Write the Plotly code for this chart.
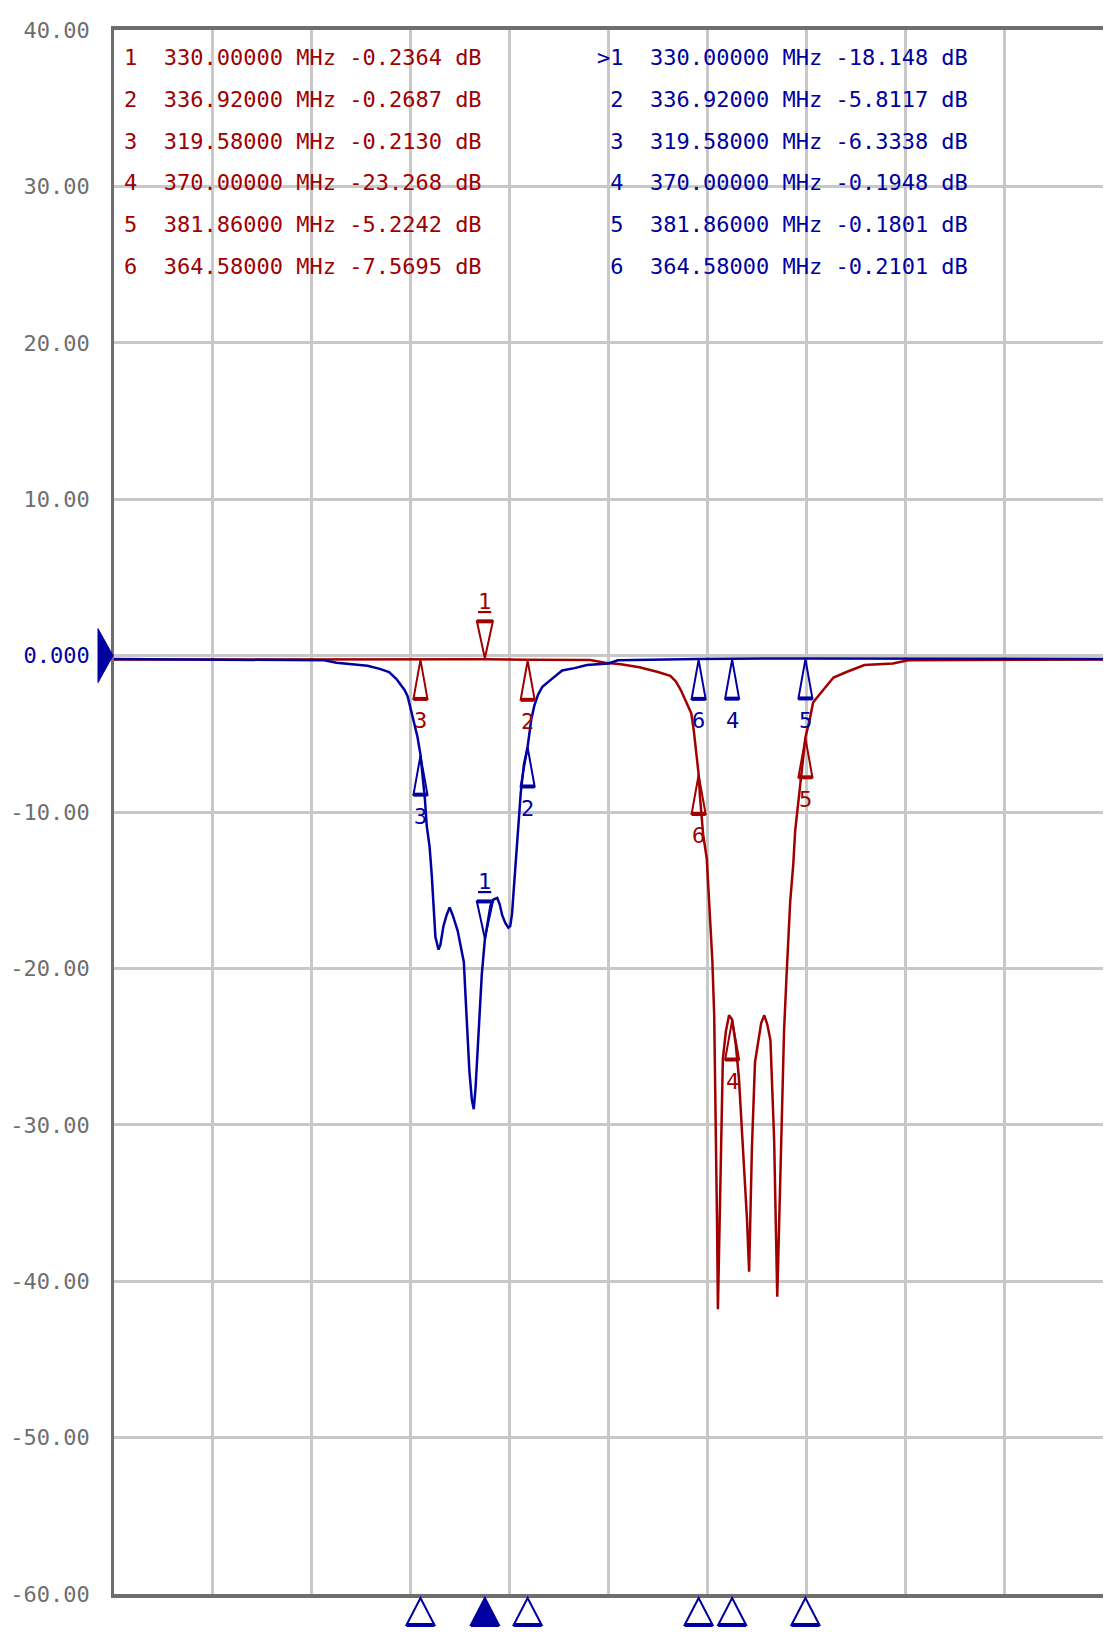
import plotly.graph_objects as go

# ---------------- data ----------------
# Blue trace (frequency in MHz, level in dB)
blue_freq = [270.0, 300.0, 304.0, 306.0, 309.0, 311.0, 313.0, 314.5, 315.7, 316.35,
             317.0, 317.5, 318.0, 318.5, 319.1, 319.58, 320.0, 320.3, 320.6, 321.05,
             321.4, 321.7, 322.0, 322.5, 322.8, 323.3, 323.8, 324.3, 324.8, 325.6,
             326.1, 326.6, 326.9, 327.2, 327.5, 327.9, 328.2, 328.5, 328.8, 329.2,
             329.5, 330.0, 330.45, 330.9, 331.4, 332.0, 332.4, 332.8, 333.3, 333.8,
             334.1, 334.4, 334.7, 335.0, 335.3, 335.8, 336.3, 336.92, 337.5, 338.0,
             338.6, 339.3, 340.5, 341.5, 342.5, 344.5, 346.5, 350.0, 351.5, 364.58,
             370.0, 381.86, 430.0]
blue_db = [-0.22, -0.25, -0.3, -0.45, -0.55, -0.65, -0.85, -1.05, -1.5, -1.85,
           -2.2, -2.6, -3.4, -4.4, -5.2, -6.3338, -7.8, -9.2, -10.9, -12.2,
           -14.0, -16.3, -18.0, -18.8, -18.5, -17.3, -16.6, -16.1, -16.6, -17.6,
           -18.6, -19.6, -22.0, -24.3, -26.6, -28.4, -29.0, -27.6, -25.3, -22.6,
           -20.4, -18.148, -17.2, -16.0, -15.6, -15.5, -15.9, -16.6, -17.1, -17.4,
           -17.3, -16.5, -14.8, -13.0, -11.4, -8.8, -7.0, -5.8117, -4.1, -3.2,
           -2.5, -2.0, -1.6, -1.3, -0.95, -0.8, -0.6, -0.5, -0.3, -0.2101,
           -0.1948, -0.1801, -0.22]

# Red trace
red_freq = [270.0, 300.0, 319.58, 330.0, 336.92, 347.0, 349.5, 352.0, 355.0, 358.0,
            360.0, 360.9, 361.7, 362.5, 363.4, 363.8, 364.2, 364.58, 364.8, 365.3,
            365.9, 366.2, 366.5, 366.8, 367.1, 367.4, 367.55, 367.7, 367.9, 368.2,
            368.5, 369.0, 369.5, 370.0, 370.6, 371.1, 371.6, 372.1, 372.4, 372.75,
            373.0, 373.2, 373.7, 374.2, 374.7, 375.2, 375.7, 376.2, 376.5, 376.8,
            377.1, 377.3, 377.5, 377.8, 378.1, 378.4, 378.8, 379.1, 379.4, 379.9,
            380.2, 380.7, 381.2, 381.86, 382.5, 383.1, 384.1, 385.2, 386.4, 388.5,
            390.1, 391.4, 396.0, 398.5, 430.0]
red_db = [-0.25, -0.25, -0.213, -0.2364, -0.2687, -0.28, -0.45, -0.55, -0.75, -1.05,
          -1.3, -1.65, -2.2, -2.9, -3.7, -4.8, -6.1, -7.5695, -9.0, -11.4,
          -13.0, -15.5, -17.5, -19.5, -23.0, -30.0, -36.0, -41.8, -37.5, -30.0,
          -25.8, -24.0, -23.0, -23.268, -24.9, -27.0, -30.5, -33.5, -36.0, -39.4,
          -35.0, -31.5, -26.0, -24.6, -23.5, -23.0, -23.6, -24.6, -28.0, -31.0,
          -37.0, -41.0, -38.0, -33.0, -28.5, -24.0, -20.5, -18.0, -15.7, -13.3,
          -11.2, -9.4, -7.5, -5.2242, -4.2, -3.0, -2.5, -2.0, -1.4, -1.05,
          -0.8, -0.6, -0.5, -0.3, -0.25]

# Markers
marker_ids = [1, 2, 3, 4, 5, 6]
marker_freq = [330.0, 336.92, 319.58, 370.0, 381.86, 364.58]
red_marker_db = [-0.2364, -0.2687, -0.2130, -23.268, -5.2242, -7.5695]
blue_marker_db = [-18.148, -5.8117, -6.3338, -0.1948, -0.1801, -0.2101]
active_marker = 1

# Axes
x_start, x_stop, x_step = 270.0, 430.0, 16.0
y_ticks = [40, 30, 20, 10, 0, -10, -20, -30, -40, -50, -60]
ref_level = 0.0

# ---------------- style ----------------
RED = "#a00000"
BLUE = "#0000a0"
AXIS_GRAY = "#6e6e6e"
GRID_GRAY = "#c8c8c8"
MONO = "DejaVu Sans Mono"
NB = "\u00a0"

W, H = 1104, 1634
ML, MR, MT, MB = 114, 1, 30, 40
PLOT_H = H - MT - MB


def fmt_db(v):
    return f"{v:.4f}" if abs(v) < 10 else f"{v:.3f}"


def ytick_text(v):
    if v == ref_level:
        return f"<span style='color:{BLUE}'>0.000</span>"
    return f"{v:.2f}"


fig = go.Figure()
fig.add_trace(go.Scatter(x=red_freq, y=red_db, mode="lines",
                         line=dict(color=RED, width=2.5), hoverinfo="skip"))
fig.add_trace(go.Scatter(x=blue_freq, y=blue_db, mode="lines",
                         line=dict(color=BLUE, width=2.5), hoverinfo="skip"))

shapes = []
annotations = []

# on-trace marker triangles + labels
for color, values in ((RED, red_marker_db), (BLUE, blue_marker_db)):
    for mid, f, v in zip(marker_ids, marker_freq, values):
        common = dict(type="path", xref="x", yref="y", xsizemode="pixel",
                      ysizemode="pixel", xanchor=f, yanchor=v, layer="above")
        if mid == active_marker:
            shapes.append(dict(common, path="M0,1 L-8,38 L8,38 Z",
                               line=dict(color=color, width=2)))
            shapes.append(dict(common, path="M-8,38 L8,38",
                               line=dict(color=color, width=4)))
            annotations.append(dict(x=f, y=v, xref="x", yref="y", showarrow=False,
                                    text=f"<span style='text-decoration:underline'>{mid}</span>",
                                    yshift=58, font=dict(family=MONO, size=22, color=color)))
        else:
            shapes.append(dict(common, path="M0,-1 L-7,-40 L7,-40 Z",
                               line=dict(color=color, width=2)))
            shapes.append(dict(common, path="M-7,-40 L7,-40",
                               line=dict(color=color, width=4)))
            annotations.append(dict(x=f, y=v, xref="x", yref="y", showarrow=False,
                                    text=str(mid), yshift=-62,
                                    font=dict(family=MONO, size=22, color=color)))

# bottom marker indicators
for mid, f in zip(marker_ids, marker_freq):
    common = dict(type="path", xref="x", yref="paper", xsizemode="pixel",
                  ysizemode="pixel", xanchor=f, yanchor=0)
    shapes.append(dict(common, path="M0,-4 L-14,-31 L14,-31 Z",
                       fillcolor=BLUE if mid == active_marker else "rgba(0,0,0,0)",
                       line=dict(color=BLUE, width=2)))
    shapes.append(dict(common, path="M-14,-31 L14,-31", line=dict(color=BLUE, width=4)))

# reference level arrow on the left
shapes.append(dict(type="path", xref="paper", yref="y", xsizemode="pixel",
                   ysizemode="pixel", xanchor=0, yanchor=ref_level,
                   path="M-1,0 L-16,27 L-16,-27 Z", fillcolor=BLUE,
                   line=dict(color=BLUE, width=1)))

# marker tables
row_pitch = 41.6
for k, (mid, f, rv, bv) in enumerate(zip(marker_ids, marker_freq, red_marker_db, blue_marker_db)):
    ypx = 58 + k * row_pitch
    ypaper = 1 - (ypx - MT) / PLOT_H
    red_txt = f"{mid}{NB*2}{f:.5f}{NB}MHz{NB}{fmt_db(rv)}{NB}dB"
    prefix = ">" if mid == active_marker else NB
    blue_txt = f"{prefix}{mid}{NB*2}{f:.5f}{NB}MHz{NB}{fmt_db(bv)}{NB}dB"
    annotations.append(dict(x=(122 - ML) / (W - ML - MR), y=ypaper, xref="paper", yref="paper",
                            xanchor="left", yanchor="middle", showarrow=False, text=red_txt,
                            font=dict(family=MONO, size=22, color=RED)))
    annotations.append(dict(x=(595 - ML) / (W - ML - MR), y=ypaper, xref="paper", yref="paper",
                            xanchor="left", yanchor="middle", showarrow=False, text=blue_txt,
                            font=dict(family=MONO, size=22, color=BLUE)))

fig.update_layout(
    width=W, height=H,
    margin=dict(l=ML, r=MR, t=MT, b=MB, pad=0),
    paper_bgcolor="white", plot_bgcolor="white",
    showlegend=False,
    xaxis=dict(range=[x_start, x_stop], tick0=x_start, dtick=x_step,
               showgrid=True, gridcolor=GRID_GRAY, gridwidth=2.5,
               showticklabels=False, ticks="", zeroline=False,
               showline=True, linecolor=AXIS_GRAY, linewidth=4, mirror=True),
    yaxis=dict(range=[y_ticks[-1], y_ticks[0]], tickmode="array",
               tickvals=y_ticks, ticktext=[ytick_text(v) for v in y_ticks],
               showgrid=True, gridcolor=GRID_GRAY, gridwidth=2.5, zeroline=False,
               showline=True, linecolor=AXIS_GRAY, linewidth=2.5, mirror=False,
               ticks="", ticklabelstandoff=17,
               tickfont=dict(family=MONO, size=22, color=AXIS_GRAY)),
    shapes=shapes,
    annotations=annotations,
)

fig.write_html("out.html", config={"displayModeBar": False},
               post_script="document.body.style.margin='0px';document.body.style.overflow='hidden';")
